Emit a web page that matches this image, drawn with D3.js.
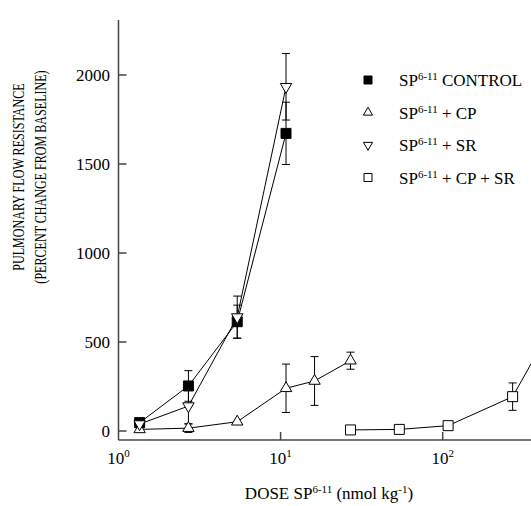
<!DOCTYPE html>
<html>
<head>
<meta charset="utf-8">
<script src="https://cdn.jsdelivr.net/npm/d3@7"></script>
<style>
  body { margin: 0; background: #fff; }
  svg { display: block; font-family: "Liberation Serif", "Times New Roman", serif; }
</style>
</head>
<body>
<svg id="chart" width="531" height="506"></svg>
<script>
// doses (nmol/kg) and responses (% change from baseline)
const controlDose = [1.35, 2.7, 5.4, 10.8];
const controlVal = [47, 253, 614, 1672];
const controlErr = [15, 86, 93, 175];

const cpDose = [1.35, 2.7, 5.4, 10.8, 16.2, 27];
const cpVal = [9, 16, 52, 240, 281, 395];
const cpErr = [0, 24, 0, 136, 137, 48];

const srDose = [1.35, 2.7, 5.4, 10.8];
const srVal = [39, 140, 640, 1934];
const srErr = [15, 100, 118, 187];

const cpsrDose = [27, 54, 108, 270, 540];
const cpsrVal = [6, 9, 30, 193, 680];
const cpsrErr = [0, 0, 0, 77, 0];

const yTicks = [0, 500, 1000, 1500, 2000];
const xTicks = [1, 10, 100];

const svg = d3.select('#chart');

// scales
const x = d3.scaleLog().domain([1, 100]).range([118.5, 442.7]);
const y = d3.scaleLinear().domain([0, 2000]).range([431, 75]);

const axisColor = '#444';
const axisBottomY = 440;

// axes lines
svg.append('line')
  .attr('x1', x(1)).attr('x2', x(1))
  .attr('y1', 20).attr('y2', axisBottomY)
  .attr('stroke', axisColor).attr('stroke-width', 1.5);
svg.append('line')
  .attr('x1', x(1)).attr('x2', 531)
  .attr('y1', axisBottomY).attr('y2', axisBottomY)
  .attr('stroke', axisColor).attr('stroke-width', 1.5);

// y ticks (pointing inward) + labels
yTicks.forEach(function (t) {
  svg.append('line')
    .attr('x1', x(1)).attr('x2', x(1) + 8)
    .attr('y1', y(t)).attr('y2', y(t))
    .attr('stroke', axisColor).attr('stroke-width', 1.5);
  svg.append('text')
    .text(t)
    .attr('x', 110)
    .attr('y', y(t))
    .attr('dy', '0.36em')
    .attr('text-anchor', 'end')
    .attr('font-size', 17);
});

// x ticks + power-of-ten labels
xTicks.forEach(function (t) {
  if (t > 1) {
    svg.append('line')
      .attr('x1', x(t)).attr('x2', x(t))
      .attr('y1', axisBottomY).attr('y2', axisBottomY - 8)
      .attr('stroke', axisColor).attr('stroke-width', 1.5);
  }
  let lbl = svg.append('text')
    .attr('x', x(t))
    .attr('y', 464)
    .attr('text-anchor', 'middle')
    .attr('font-size', 17);
  lbl.append('tspan').text('10');
  lbl.append('tspan').text(Math.round(Math.log10(t)))
    .attr('font-size', 11).attr('dy', -7);
});

// x-axis title
let xt = svg.append('text')
  .attr('x', 329).attr('y', 499)
  .attr('text-anchor', 'middle')
  .attr('font-size', 17);
xt.append('tspan').text('DOSE SP');
xt.append('tspan').text('6-11').attr('font-size', 11).attr('dy', -6);
xt.append('tspan').text(' (nmol kg').attr('dy', 6);
xt.append('tspan').text('-1').attr('font-size', 11).attr('dy', -6);
xt.append('tspan').text(')').attr('dy', 6);

// y-axis title, two rotated lines (narrow glyphs in the original)
svg.append('text')
  .text('PULMONARY FLOW RESISTANCE')
  .attr('transform', 'translate(23.5,177) rotate(-90) scale(0.71,1)')
  .attr('text-anchor', 'middle')
  .attr('font-size', 17);
svg.append('text')
  .text('(PERCENT CHANGE FROM BASELINE)')
  .attr('transform', 'translate(46,177) rotate(-90) scale(0.71,1)')
  .attr('text-anchor', 'middle')
  .attr('font-size', 17);

const series = [
  { dose: controlDose, val: controlVal, err: controlErr, shape: 'square', fill: '#000' },
  { dose: cpDose, val: cpVal, err: cpErr, shape: 'up', fill: '#fff' },
  { dose: srDose, val: srVal, err: srErr, shape: 'down', fill: '#fff' },
  { dose: cpsrDose, val: cpsrVal, err: cpsrErr, shape: 'square', fill: '#fff' }
];

function markerPath(shape, scale) {
  if (shape === 'square') {
    return d3.symbol().type(d3.symbolSquare).size(100 * scale * scale)();
  }
  return d3.symbol().type(d3.symbolTriangle).size(56 * scale * scale)();
}

function markerTransform(shape, px, py) {
  // triangle symbols are centred on the centroid; down = rotated
  return 'translate(' + px + ',' + py + ')' + (shape === 'down' ? ' rotate(180)' : '');
}

const line = d3.line()
  .x(function (d) { return x(d.dose); })
  .y(function (d) { return y(d.val); });

const plot = svg.append('g');

// connecting lines first
series.forEach(function (s) {
  let pts = s.dose.map(function (d, i) { return { dose: d, val: s.val[i], err: s.err[i] }; });
  s.pts = pts;
  plot.append('path')
    .datum(pts)
    .attr('d', line)
    .attr('fill', 'none')
    .attr('stroke', '#000')
    .attr('stroke-width', 1);
});

// error bars
series.forEach(function (s) {
  s.pts.filter(function (d) { return d.err > 0; }).forEach(function (d) {
    let px = x(d.dose);
    plot.append('line')
      .attr('x1', px).attr('x2', px)
      .attr('y1', y(d.val - d.err)).attr('y2', y(d.val + d.err))
      .attr('stroke', '#000').attr('stroke-width', 1);
    [d.val - d.err, d.val + d.err].forEach(function (v) {
      plot.append('line')
        .attr('x1', px - 4).attr('x2', px + 4)
        .attr('y1', y(v)).attr('y2', y(v))
        .attr('stroke', '#000').attr('stroke-width', 1);
    });
  });
});

// markers
series.forEach(function (s) {
  plot.selectAll(null)
    .data(s.pts)
    .join('path')
    .attr('d', markerPath(s.shape, 1))
    .attr('transform', function (d) { return markerTransform(s.shape, x(d.dose), y(d.val)); })
    .attr('fill', s.fill)
    .attr('stroke', '#000')
    .attr('stroke-width', 1);
});

// legend
const legendLabels = [' CONTROL', ' + CP', ' + SR', ' + CP + SR'];
const legendY = [80, 112.5, 145, 177.5];
series.forEach(function (s, i) {
  svg.append('path')
    .attr('d', markerPath(s.shape, 0.8))
    .attr('transform', markerTransform(s.shape, 368, legendY[i]))
    .attr('fill', s.fill)
    .attr('stroke', '#000')
    .attr('stroke-width', 1);
  let t = svg.append('text')
    .attr('x', 399).attr('y', legendY[i] + 6)
    .attr('font-size', 17);
  t.append('tspan').text('SP');
  t.append('tspan').text('6-11').attr('font-size', 11).attr('dy', -6);
  t.append('tspan').text(legendLabels[i]).attr('dy', 6);
});
</script>
</body>
</html>
